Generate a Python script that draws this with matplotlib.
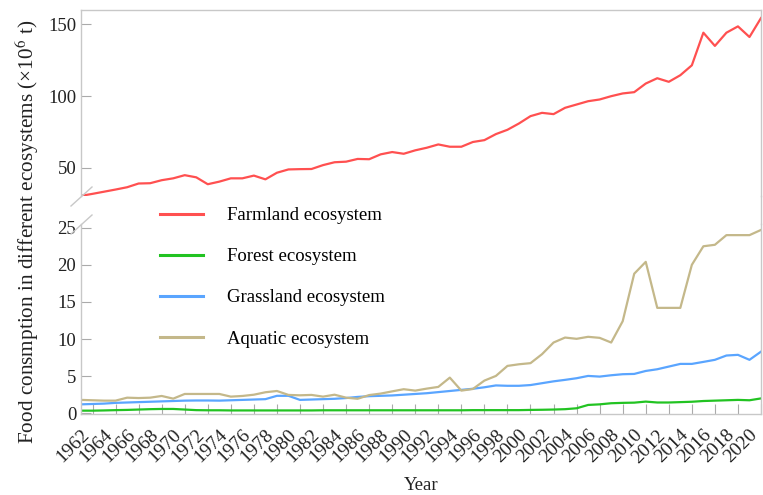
import matplotlib
matplotlib.use("Agg")
import matplotlib.pyplot as plt
from matplotlib.lines import Line2D

plt.rcParams['font.family'] = ['Liberation Serif', 'DejaVu Serif']
plt.rcParams['mathtext.fontset'] = 'stix'

# data (10^6 t)
years = list(range(1961, 2021))

farmland = [30.6, 32.0, 33.5, 35.0, 36.6, 39.2, 39.4, 41.5, 42.8, 45.0,
            43.5, 38.7, 40.5, 42.8, 42.8, 44.7, 42.1, 46.7, 49.0, 49.2,
            49.3, 52.0, 54.0, 54.4, 56.3, 56.1, 59.5, 61.1, 59.9, 62.3,
            64.1, 66.4, 64.8, 64.8, 68.1, 69.4, 73.6, 76.6, 81.0, 86.1,
            88.4, 87.5, 91.9, 94.2, 96.5, 97.7, 100.0, 101.9, 102.8, 108.8,
            112.5, 110.0, 114.6, 121.5, 144.2, 135.0, 144.2, 148.6, 141.2, 154.4]

forest = [0.35, 0.35, 0.38, 0.42, 0.45, 0.5, 0.55, 0.58, 0.58, 0.5,
          0.42, 0.4, 0.4, 0.38, 0.38, 0.38, 0.38, 0.38, 0.38, 0.38,
          0.38, 0.4, 0.4, 0.4, 0.4, 0.4, 0.4, 0.4, 0.4, 0.4,
          0.4, 0.4, 0.4, 0.4, 0.42, 0.42, 0.42, 0.42, 0.42, 0.45,
          0.47, 0.5, 0.55, 0.67, 1.12, 1.2, 1.35, 1.4, 1.43, 1.57,
          1.45, 1.45, 1.5, 1.55, 1.65, 1.7, 1.75, 1.8, 1.75, 2.0]

grassland = [1.2, 1.25, 1.3, 1.4, 1.45, 1.5, 1.55, 1.6, 1.65, 1.7,
             1.72, 1.72, 1.7, 1.75, 1.8, 1.85, 1.9, 2.35, 2.35, 1.8,
             1.85, 1.9, 1.95, 2.05, 2.2, 2.3, 2.35, 2.4, 2.5, 2.6,
             2.7, 2.85, 3.0, 3.15, 3.3, 3.5, 3.75, 3.7, 3.7, 3.8,
             4.05, 4.3, 4.5, 4.72, 5.03, 4.94, 5.12, 5.26, 5.3, 5.7,
             5.93, 6.29, 6.65, 6.65, 6.92, 7.2, 7.78, 7.87, 7.2, 8.3]

aquatic = [1.8, 1.75, 1.7, 1.7, 2.1, 2.05, 2.1, 2.33, 1.97, 2.6,
           2.6, 2.6, 2.6, 2.24, 2.33, 2.5, 2.83, 3.0, 2.47, 2.42,
           2.47, 2.24, 2.5, 2.1, 1.95, 2.45, 2.65, 2.95, 3.24, 3.05,
           3.32, 3.55, 4.8, 3.05, 3.27, 4.4, 5.03, 6.38, 6.6, 6.75,
           7.96, 9.53, 10.2, 10.03, 10.3, 10.16, 9.53, 12.4, 18.8, 20.4,
           14.2, 14.2, 14.2, 20.0, 22.5, 22.7, 24.0, 24.0, 24.0, 24.7]

labels = ['Farmland ecosystem', 'Forest ecosystem', 'Grassland ecosystem', 'Aquatic ecosystem']
colors = ['#ff5050', '#22c322', '#5aa5ff', '#c4b88a']

W, H = 763, 495
fig = plt.figure(figsize=(W / 100, H / 100), dpi=100)

x0, x1 = 81, 761
top_y0, top_y1 = 10, 196
bot_y0, bot_y1 = 224, 414

ax_top = fig.add_axes([x0 / W, 1 - top_y1 / H, (x1 - x0) / W, (top_y1 - top_y0) / H])
ax_bot = fig.add_axes([x0 / W, 1 - bot_y1 / H, (x1 - x0) / W, (bot_y1 - bot_y0) / H])

spine_c = '#c8c8c8'
fs = 13.5

h1, = ax_top.plot(years, farmland, color=colors[0], lw=1.6)
h2, = ax_bot.plot(years, forest, color=colors[1], lw=1.6)
h3, = ax_bot.plot(years, grassland, color=colors[2], lw=1.6)
h4, = ax_bot.plot(years, aquatic, color=colors[3], lw=1.6)

for ax in (ax_top, ax_bot):
    ax.set_xlim(1961, 2020)
    for s in ax.spines.values():
        s.set_color(spine_c)
        s.set_linewidth(1.0)
    ax.tick_params(direction='in', length=7, color='#aaaaaa', labelsize=fs,
                   labelcolor='#222222')

ax_top.set_ylim(30.5, 160)
ax_top.set_yticks([50, 100, 150])
ax_top.spines['bottom'].set_visible(False)
ax_top.tick_params(axis='x', bottom=False, labelbottom=False)

ax_bot.set_ylim(-0.1, 25.5)
ax_bot.set_yticks([0, 5, 10, 15, 20, 25])
ax_bot.spines['top'].set_visible(False)
xt = list(range(1962, 2021, 2))
ax_bot.set_xticks(xt)
ax_bot.set_xticklabels([str(y) for y in xt], rotation=45, ha='right')
ax_bot.tick_params(axis='x', pad=9, labelsize=14)

# break marks and right side connector
def fx(px):
    return px / W

def fy(py):
    return 1 - py / H

for cy in (top_y1, bot_y0):
    fig.add_artist(Line2D([fx(x0 - 10), fx(x0 + 11)], [fy(cy + 10), fy(cy - 9)],
                          color=spine_c, lw=1.0))
fig.add_artist(Line2D([fx(x1), fx(x1)], [fy(top_y1), fy(bot_y0)], color=spine_c, lw=1.0))

fig.legend([h1, h2, h3, h4], labels, loc='upper left',
           bbox_to_anchor=(160 / W, 1 - 207 / H), frameon=False, fontsize=fs,
           handlelength=2.3, handletextpad=1.28, labelspacing=1.28, borderpad=0,
           borderaxespad=0)
for lh in fig.legends[0].get_lines():
    lh.set_linewidth(2.2)

fig.text(27 / W, 1 - 232 / H, 'Food consmption in different ecosystems (×10$^{6}$ t)',
         rotation=90, ha='center', va='center', fontsize=15.3, color='#222222')
fig.text(421 / W, 1 - 486 / H, 'Year', ha='center', va='center', fontsize=fs,
         color='#222222')

fig.savefig('out.png', dpi=100)
